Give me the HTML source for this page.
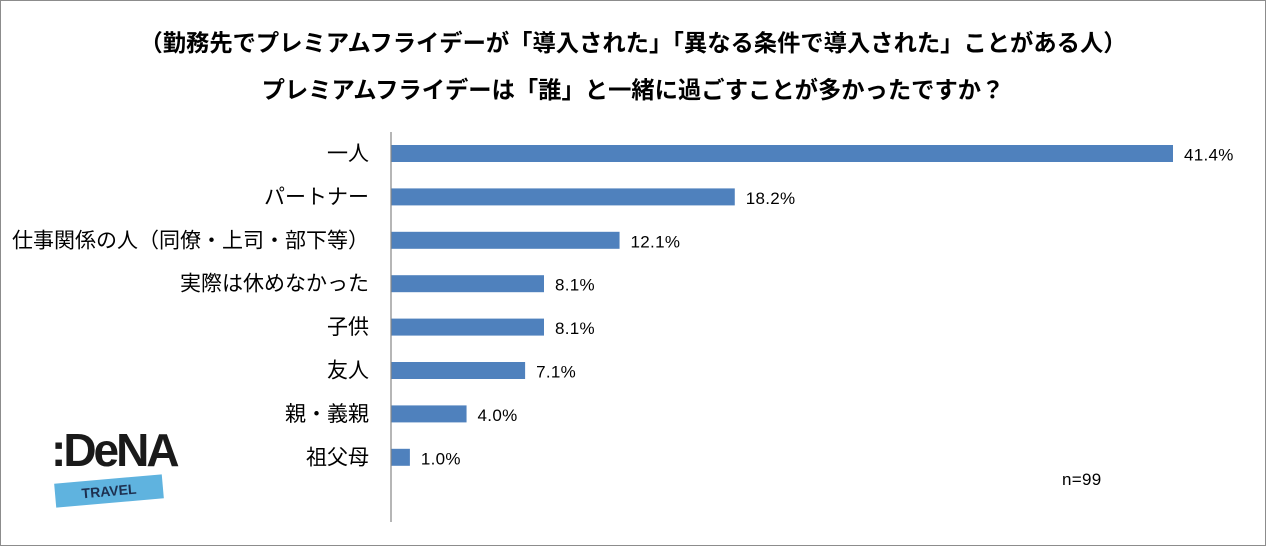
<!DOCTYPE html>
<html><head><meta charset="utf-8"><style>
body{margin:0;background:#fff;}
#wrap{position:relative;width:1264px;height:544px;border:1px solid #8c8c8c;background:#fff;overflow:hidden;font-family:"Liberation Sans","Noto Sans CJK JP",sans-serif;}
.t{position:absolute;left:0;width:1264px;text-align:center;font-weight:bold;font-size:23.3px;color:#000;}
</style></head><body>
<div id="wrap">
<div class="t" style="top:23px">（勤務先でプレミアムフライデーが「導入された」「異なる条件で導入された」ことがある人）</div>
<div class="t" style="top:70px">プレミアムフライデーは「誰」と一緒に過ごすことが多かったですか？</div>
<svg id="chart" width="1264" height="544" style="position:absolute;left:0;top:0"></svg>
<div style="position:absolute;left:1061px;top:469px;font-size:17px;letter-spacing:0.3px">n=99</div>
<div style="position:absolute;left:50px;top:422px;width:125px;height:95px;">
 <div style="position:absolute;left:0;top:0;font-size:46px;font-weight:bold;color:#1a1a1a;letter-spacing:-3px;font-family:'Liberation Sans',sans-serif">:DeNA</div>
 <div style="position:absolute;left:4px;top:56px;width:108px;height:24px;background:#5fb3df;transform:rotate(-5deg);text-align:center;font-size:14px;font-weight:bold;line-height:24px;color:#1d2f4f">TRAVEL</div>
</div>
</div>
<script>
const categories=["一人","パートナー","仕事関係の人（同僚・上司・部下等）","実際は休めなかった","子供","友人","親・義親","祖父母"];
const values=[41.4,18.2,12.1,8.1,8.1,7.1,4.0,1.0];
const labels=["41.4%","18.2%","12.1%","8.1%","8.1%","7.1%","4.0%","1.0%"];
const svg=document.getElementById('chart');
const NS='http://www.w3.org/2000/svg';
const x0=390, xPer=(1172-390)/41.4;
const xs=v=>x0+v*xPer;
const ys=i=>152.5+i*43.4;
function mk(tag,attrs){const e=document.createElementNS(NS,tag);for(const k in attrs)e.setAttribute(k,attrs[k]);svg.appendChild(e);return e;}
categories.forEach((c,i)=>{
 const r=mk('rect',{x:x0,y:ys(i)-8.5,width:xs(values[i])-x0,height:17,fill:'#4f81bd'});
 
 
 const l=mk('text',{x:xs(values[i])+11,y:ys(i)+7,'font-size':17,'letter-spacing':0.3,fill:'#000'});
 l.textContent=labels[i];
 
 
 const t=mk('text',{x:368,y:ys(i)+7,'font-size':21,'text-anchor':'end',fill:'#000'});
 t.textContent=c;
 
 
});
const ax=mk('line',{x1:x0,y1:131,x2:x0,y2:521,stroke:'#868686','stroke-width':1.2});


</script>
</body></html>
